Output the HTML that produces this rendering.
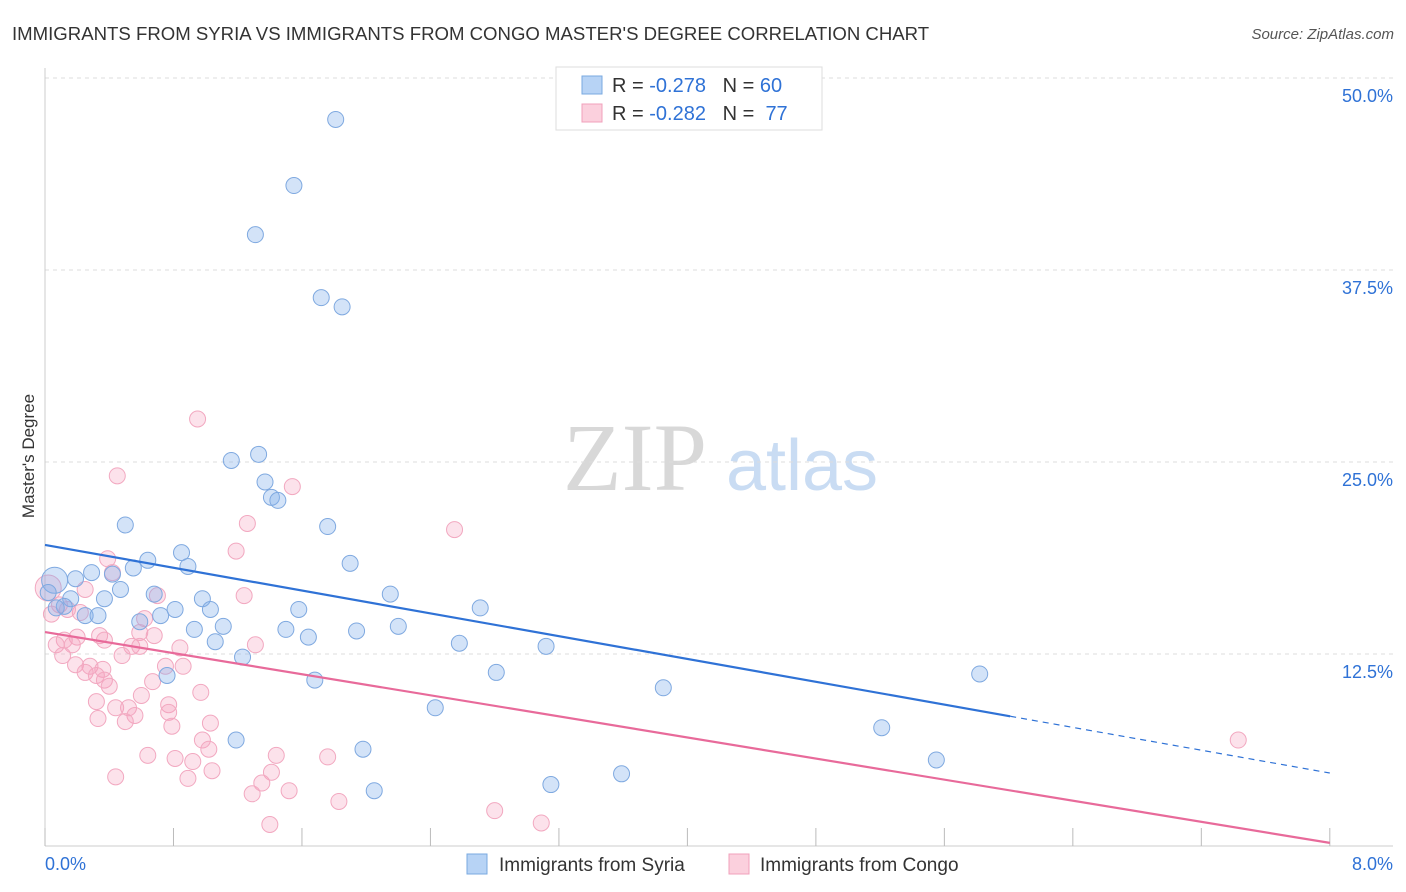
<!DOCTYPE html>
<html><head><meta charset="utf-8">
<style>
body{margin:0;background:#fff;font-family:"Liberation Sans",sans-serif;}
svg{display:block}
</style></head>
<body>
<svg id="chart" width="1406" height="892" viewBox="0 0 1406 892" xmlns="http://www.w3.org/2000/svg">
<text x="12" y="40" font-size="18.6" fill="#333">IMMIGRANTS FROM SYRIA VS IMMIGRANTS FROM CONGO MASTER'S DEGREE CORRELATION CHART</text>
<text x="1394" y="39" font-size="15" fill="#555" text-anchor="end" font-style="italic">Source: ZipAtlas.com</text>
<g>
<text x="635" y="490" font-size="96" fill="#d8d8d8" text-anchor="middle" font-family="Liberation Serif,serif">ZIP</text>
<text x="802" y="490" font-size="72" fill="#c9dcf3" text-anchor="middle">atlas</text>
</g>
<g id="grid"></g>
<g id="axes"></g>
<g id="marks"></g>
<text x="34" y="456" font-size="17" fill="#333" text-anchor="middle" transform="rotate(-90 34 456)">Master's Degree</text>
<g>
<rect x="556" y="67" width="266" height="63" fill="#fff" stroke="#ddd"/>
<rect x="582" y="76" width="20" height="18" fill="#b7d3f5" stroke="#7aaae0"/>
<rect x="582" y="104" width="20" height="18" fill="#fbd0dd" stroke="#f0a0bb"/>
<text x="612" y="92" font-size="20" fill="#333">R = <tspan fill="#2f72d6">-0.278</tspan>&#160;&#160;&#160;N = <tspan fill="#2f72d6">60</tspan></text>
<text x="612" y="120" font-size="20" fill="#333">R = <tspan fill="#2f72d6">-0.282</tspan>&#160;&#160;&#160;N = &#160;<tspan fill="#2f72d6">77</tspan></text>
</g>
<g>
<rect x="467" y="854" width="20" height="20" fill="#b7d3f5" stroke="#7aaae0"/>
<text x="499" y="871" font-size="19" fill="#333">Immigrants from Syria</text>
<rect x="729" y="854" width="20" height="20" fill="#fbd0dd" stroke="#f0a0bb"/>
<text x="760" y="871" font-size="19" fill="#333">Immigrants from Congo</text>
</g>
</svg>
<script>
const yTicks=[12.5,25,37.5,50];
const yTickLabels=["12.5%","25.0%","37.5%","50.0%"];
const xTickLabels=["0.0%","8.0%"];
const syriaX=[1.81,1.55,1.31,1.72,1.85,1.16,1.33,1.37,1.41,1.45,0.50,1.76,0.85,0.64,0.89,1.90,0.55,0.29,0.19,0.42,0.06,0.47,0.02,0.68,0.37,0.16,0.98,2.15,0.12,0.07,0.81,1.03,2.71,1.58,0.72,0.25,0.33,0.59,1.11,2.20,0.93,1.50,1.94,1.64,1.06,2.58,3.12,1.23,0.76,2.81,1.68,5.82,3.85,2.43,5.21,1.19,1.98,5.55,3.59,3.15,2.05];
const syriaY=[47.3,43.0,39.8,35.7,35.1,25.1,25.5,23.7,22.7,22.5,20.9,20.8,19.1,18.6,18.2,18.4,18.1,17.8,17.4,17.7,17.3,16.7,16.5,16.4,16.1,16.1,16.1,16.4,15.6,15.5,15.4,15.4,15.5,15.4,15.0,15.0,15.0,14.6,14.3,14.3,14.1,14.1,14.0,13.6,13.3,13.2,13.0,12.3,11.1,11.3,10.8,11.2,10.3,9.0,7.7,6.9,6.3,5.6,4.7,4.0,3.6];
const congoX=[0.95,0.45,1.54,1.26,2.55,1.19,0.39,0.42,0.02,0.25,1.24,0.70,0.09,0.04,0.22,0.62,0.14,0.59,0.68,0.20,0.34,0.12,0.07,0.37,0.54,0.59,0.84,1.31,0.17,0.11,0.48,0.19,0.28,0.36,0.75,0.86,0.25,0.32,0.37,0.67,0.40,0.97,0.60,0.77,0.32,0.44,0.52,0.77,0.56,0.33,0.50,1.03,0.79,0.98,1.02,0.64,0.81,0.92,1.44,1.76,1.04,1.41,0.89,0.44,1.35,1.52,1.29,1.83,2.80,1.40,3.09,7.43];
const congoY=[27.8,24.1,23.4,21.0,20.6,19.2,18.7,17.8,16.8,16.7,16.3,16.3,15.7,15.1,15.2,14.8,15.4,13.9,13.7,13.6,13.7,13.4,13.1,13.4,13.0,13.0,12.9,13.1,13.1,12.4,12.4,11.8,11.7,11.5,11.7,11.7,11.3,11.1,10.8,10.7,10.4,10.0,9.8,9.2,9.4,9.0,9.0,8.7,8.5,8.3,8.1,8.0,7.8,6.9,6.3,5.9,5.7,5.5,5.9,5.8,4.9,4.8,4.4,4.5,4.1,3.6,3.4,2.9,2.3,1.4,1.5,6.9];
const syriaTrend=[19.6,-1.856];
const congoTrend=[13.93,-1.716];
const NS="http://www.w3.org/2000/svg";
const X=v=>45+v*160.6, Y=v=>846-v*15.36;
function mk(tag,at,parent){const e=document.createElementNS(NS,tag);for(const k in at)e.setAttribute(k,at[k]);parent.appendChild(e);return e;}
const grid=document.getElementById('grid'),axes=document.getElementById('axes'),marks=document.getElementById('marks');
yTicks.forEach((t,i)=>{
 const l=mk('line',{x1:45,x2:1393,y1:Y(t),y2:Y(t),stroke:'#ddd','stroke-dasharray':'4,4'},grid);
 
 
 const tx=mk('text',{x:1393,y:Y(t)+24,'font-size':18,fill:'#2f72d6','text-anchor':'end'},axes);
 tx.textContent=yTickLabels[i];
 
 
});
mk('line',{x1:45,x2:45,y1:68,y2:846,stroke:'#ccc'},axes);
mk('line',{x1:45,x2:1393,y1:846,y2:846,stroke:'#ccc'},axes);
for(let i=0;i<=10;i++){const t=mk('line',{x1:X(i*0.8),x2:X(i*0.8),y1:828,y2:846,stroke:'#bbb'},axes);}
const xl0=mk('text',{x:45,y:870,'font-size':18,fill:'#2f72d6'},axes);xl0.textContent=xTickLabels[0];


const xl1=mk('text',{x:1393,y:870,'font-size':18,fill:'#2f72d6','text-anchor':'end'},axes);xl1.textContent=xTickLabels[1];


function pts(xs,ys,fill,stroke,name){xs.forEach((x,i)=>{const r=(i===20&&name==='syria')||(i===8&&name==='congo')?13:8;
 const c=mk('circle',{cx:X(x),cy:Y(ys[i]),r:r,fill:fill,stroke:stroke,'stroke-width':1},marks);
 
 });}
pts(congoX,congoY,'rgba(245,160,190,0.3)','#f2a8c0','congo');
pts(syriaX,syriaY,'rgba(130,175,235,0.35)','#7fa9e0','syria');
const bx=6.01;
const b1=mk('line',{x1:X(0),y1:Y(syriaTrend[0]),x2:X(bx),y2:Y(syriaTrend[0]+syriaTrend[1]*bx),stroke:'#2f72d6','stroke-width':2.2},marks);


const b2=mk('line',{x1:X(bx),y1:Y(syriaTrend[0]+syriaTrend[1]*bx),x2:X(8),y2:Y(syriaTrend[0]+syriaTrend[1]*8),stroke:'#2f72d6','stroke-width':1.2,'stroke-dasharray':'6,5'},marks);


const p1=mk('line',{x1:X(0),y1:Y(congoTrend[0]),x2:X(8),y2:Y(congoTrend[0]+congoTrend[1]*8),stroke:'#e86a9a','stroke-width':2.2},marks);


</script>
</body></html>
